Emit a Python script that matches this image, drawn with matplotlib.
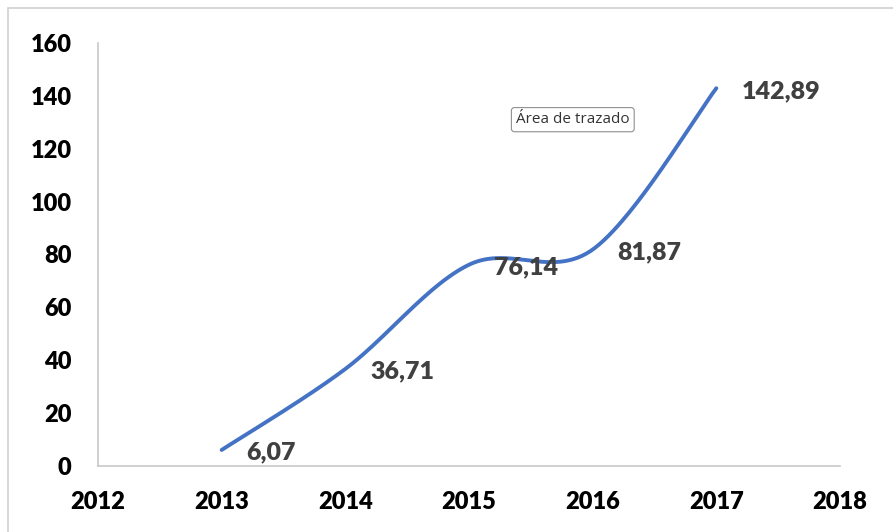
import matplotlib
matplotlib.use("Agg")
import matplotlib.pyplot as plt
import numpy as np
from matplotlib.patches import Rectangle

years = [2013, 2014, 2015, 2016, 2017]
values = [6.07, 36.71, 76.14, 81.87, 142.89]
labels = ["6,07", "36,71", "76,14", "81,87", "142,89"]
xticks = [2012, 2013, 2014, 2015, 2016, 2017, 2018]
yticks = [0, 20, 40, 60, 80, 100, 120, 140, 160]

plt.rcParams['font.family'] = ['Lato', 'DejaVu Sans']

fig = plt.figure(figsize=(8.93, 5.32), dpi=100)
ax = fig.add_axes([98/893, 1-466/532, (840-98)/893, (466-43)/532])

# Excel-like smoothed line (Catmull-Rom Bezier through the points)
x = np.array(years, dtype=float)
y = np.array(values, dtype=float)
px = np.concatenate([[x[0]], x, [x[-1]]])
py = np.concatenate([[y[0]], y, [y[-1]]])
cx, cy = [], []
t = np.linspace(0, 1, 60)
for i in range(1, len(px) - 2):
    p0 = np.array([px[i], py[i]])
    p3 = np.array([px[i+1], py[i+1]])
    c1 = p0 + (np.array([px[i+1], py[i+1]]) - np.array([px[i-1], py[i-1]])) / 6
    c2 = p3 - (np.array([px[i+2], py[i+2]]) - np.array([px[i], py[i]])) / 6
    b = ((1-t)**3)[:, None]*p0 + (3*(1-t)**2*t)[:, None]*c1 + (3*(1-t)*t**2)[:, None]*c2 + (t**3)[:, None]*p3
    cx.extend(b[:, 0]); cy.extend(b[:, 1])
ax.plot(cx, cy, color='#4472C4', lw=2.8, solid_capstyle='round')

for xv, yv, lab in zip(years, values, labels):
    ax.annotate(lab, (xv, yv), xytext=(18, -2), textcoords='offset points',
                ha='left', va='center', fontsize=18, fontweight='heavy', color='#404040')

ax.set_xlim(2012, 2018)
ax.set_ylim(0, 160)
ax.set_xticks(xticks)
ax.set_yticks(yticks)
ax.tick_params(length=0, labelsize=17, labelcolor='black')
for lab in ax.get_xticklabels() + ax.get_yticklabels():
    lab.set_fontweight('heavy')
ax.tick_params(axis='x', pad=18)
ax.tick_params(axis='y', pad=19)
for s in ['top', 'right']:
    ax.spines[s].set_visible(False)
for s in ['left', 'bottom']:
    ax.spines[s].set_color('#c8c8c8')
    ax.spines[s].set_linewidth(1.2)

ax.text(2015.38, 131, "Área de trazado", fontsize=11, color='#333333', ha='left', va='center',
        family=['Open Sans', 'DejaVu Sans'],
        bbox=dict(boxstyle='round,pad=0.3,rounding_size=0.2', fc='white', ec='#909090', lw=0.8))

fig.patches.append(Rectangle((8/893, -0.1), 1.2, 1-8/532+0.1, transform=fig.transFigure,
                             fill=False, ec='#d0d0d0', lw=1.2))

fig.savefig('out.png', dpi=100)
